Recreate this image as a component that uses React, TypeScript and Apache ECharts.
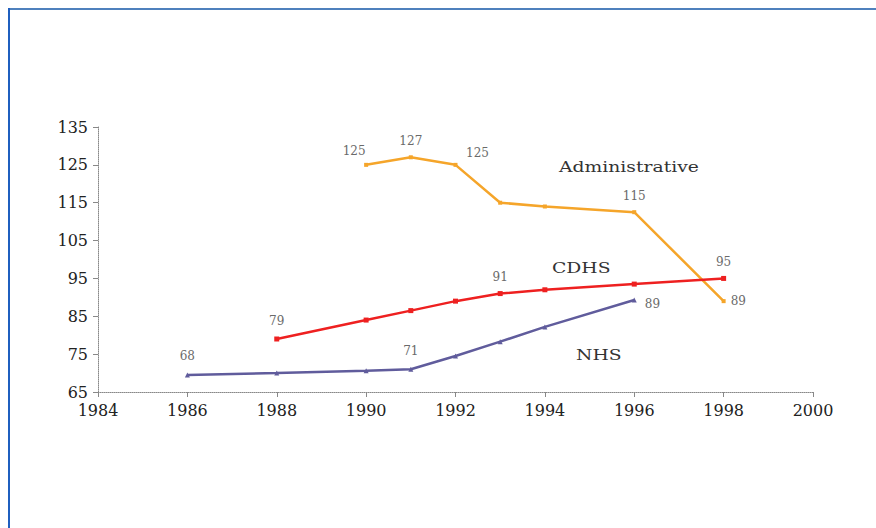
import React, { useEffect, useRef } from "react";
import * as echarts from "echarts";

const admYears = [1990, 1991, 1992, 1993, 1994, 1996, 1998];
const admValues = [125, 127, 125, 115, 114, 112.5, 89];
const admLabels = ["125", "127", "125", "", "", "115", "89"];

const cdhsYears = [1988, 1990, 1991, 1992, 1993, 1994, 1996, 1998];
const cdhsValues = [79, 84, 86.5, 89, 91, 92, 93.5, 95];
const cdhsLabels = ["79", "", "", "", "91", "", "", "95"];

const nhsYears = [1986, 1988, 1990, 1991, 1992, 1993, 1994, 1996];
const nhsValues = [69.5, 70, 70.6, 71, 74.5, 78.3, 82.2, 89.3];
const nhsLabels = ["68", "", "", "71", "", "", "", "89"];

const seriesNames = ["Administrative", "CDHS", "NHS"];

const FONT = "DejaVu Serif";
const LABEL_COLOR = "#6a6a6a";

function build(years: number[], values: number[], labels: string[], positions: Record<string, any>) {
  return years.map((y, i) => {
    const item: any = { value: [y, values[i]] };
    if (labels[i]) {
      const p = positions[labels[i] + "_" + i] || { position: "top", distance: 8 };
      item.label = {
        show: true,
        formatter: labels[i],
        color: LABEL_COLOR,
        fontFamily: FONT,
        fontSize: 12,
        ...p,
      };
    }
    return item;
  });
}

export default function App() {
  const ref = useRef<HTMLDivElement>(null);
  useEffect(() => {
    document.body.style.margin = "0";
    const chart = echarts.init(ref.current!, null, { renderer: "svg" });
    const labelStyle = { color: LABEL_COLOR, fontFamily: FONT, fontSize: 12 };
    const axisLabel = {
      color: "#222",
      fontFamily: FONT,
      fontSize: 16,
      margin: 10,
      formatter: (v: number) => String(v),
    };
    chart.setOption({
      animation: false,
      backgroundColor: "#fff",
      grid: { left: 98, right: 63, top: 127, bottom: 136 },
      xAxis: {
        type: "value",
        min: 1984,
        max: 2000,
        interval: 2,
        axisLine: { lineStyle: { color: "#888", type: "dotted", width: 1 } },
        axisTick: { show: true, length: 5, lineStyle: { color: "#888" } },
        splitLine: { show: false },
        axisLabel,
      },
      yAxis: {
        type: "value",
        min: 65,
        max: 135,
        interval: 10,
        axisLine: { show: true, lineStyle: { color: "#888", type: "dotted", width: 1 } },
        axisTick: { show: true, length: 5, lineStyle: { color: "#888" } },
        splitLine: { show: false },
        axisLabel,
      },
      series: [
        {
          name: seriesNames[0],
          type: "line",
          data: build(admYears, admValues, admLabels, {
            "125_0": { position: "top", offset: [-12, 0], distance: 6 },
            "127_1": { position: "top", distance: 8 },
            "125_2": { position: "top", offset: [22, 0], distance: 4 },
            "115_5": { position: "top", distance: 8 },
            "89_6": { position: "right", distance: 5 },
          }),
          symbol: "rect",
          symbolSize: 4,
          lineStyle: { color: "#F5A52A", width: 2.5 },
          itemStyle: { color: "#F5A52A" },
          label: labelStyle,
        },
        {
          name: seriesNames[1],
          type: "line",
          data: build(cdhsYears, cdhsValues, cdhsLabels, {
            "79_0": { position: "top", distance: 10 },
            "91_4": { position: "top", distance: 8 },
            "95_7": { position: "top", distance: 8 },
          }),
          symbol: "rect",
          symbolSize: 5,
          lineStyle: { color: "#EE2020", width: 2.5 },
          itemStyle: { color: "#EE2020" },
          label: labelStyle,
        },
        {
          name: seriesNames[2],
          type: "line",
          data: build(nhsYears, nhsValues, nhsLabels, {
            "68_0": { position: "top", distance: 10 },
            "71_3": { position: "top", distance: 10 },
            "89_7": { position: "right", distance: 8, offset: [0, 4] },
          }),
          symbol: "triangle",
          symbolSize: 5,
          lineStyle: { color: "#605C9C", width: 2.5 },
          itemStyle: { color: "#605C9C" },
          label: labelStyle,
        },
      ],
      graphic: [
        { type: "line", shape: { x1: 8, y1: 9, x2: 876, y2: 9 }, style: { stroke: "#4F81BD", lineWidth: 2 } },
        { type: "line", shape: { x1: 9, y1: 8, x2: 9, y2: 528 }, style: { stroke: "#1F5FBF", lineWidth: 2 } },
        { type: "text", x: 559, y: 159, scaleX: 1.25, style: { text: seriesNames[0], fill: "#333", font: `15px "${FONT}"` } },
        { type: "text", x: 552, y: 260, scaleX: 1.25, style: { text: seriesNames[1], fill: "#333", font: `15px "${FONT}"` } },
        { type: "text", x: 576, y: 347, scaleX: 1.25, style: { text: seriesNames[2], fill: "#333", font: `15px "${FONT}"` } },
      ],
    });
    return () => chart.dispose();
  }, []);
  return <div ref={ref} style={{ position: "absolute", left: 0, top: 0, width: 876, height: 528 }} />;
}
